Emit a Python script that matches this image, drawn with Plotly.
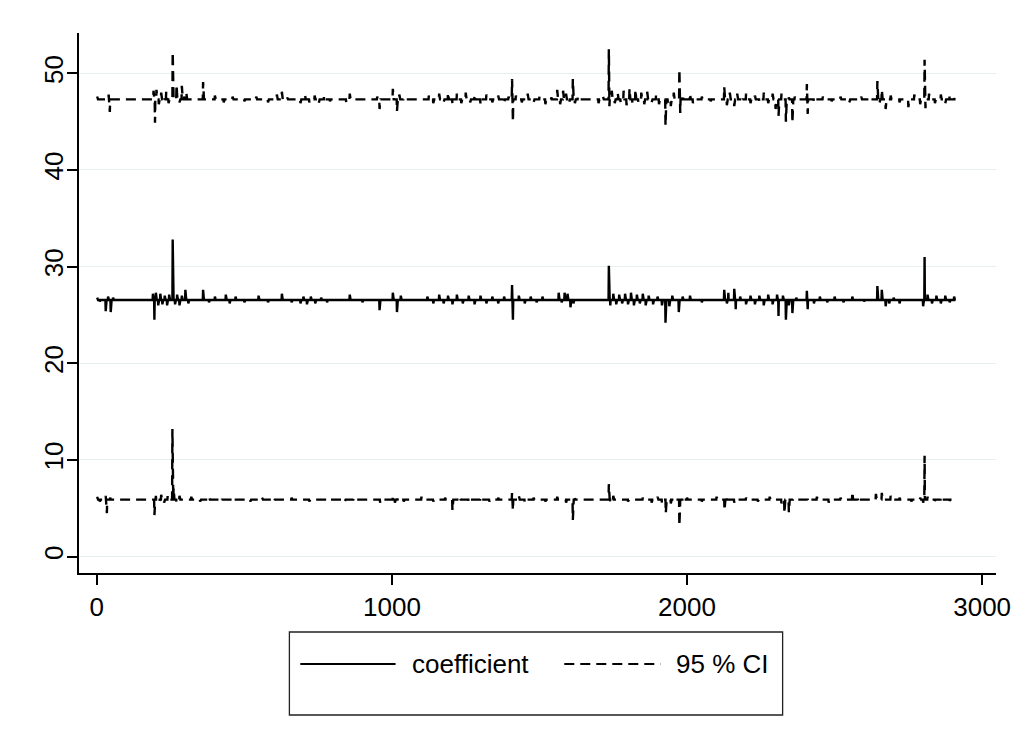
import numpy as np
import plotly.graph_objects as go

# Observation index and the typical level of each series
N_OBS = 2910
obs = np.arange(1, N_OBS + 1)

UPPER_LEVEL = 47.3
COEF_LEVEL = 26.55
LOWER_LEVEL = 5.9

# Observations where the upper 95% bound departs from its usual level
upper_obs = [1, 40, 44, 192, 197, 202, 210, 218, 226, 235, 243, 257, 270, 280, 288, 296, 303,
             360, 400, 430, 460, 500, 540, 580, 610, 627, 645, 690, 705, 720, 738, 752, 770, 790,
             845, 857, 950, 958, 1003, 1017, 1025, 1040, 1125, 1140, 1160, 1175, 1190, 1205,
             1220, 1235, 1250, 1265, 1280, 1300, 1320, 1340, 1360, 1380, 1395, 1407, 1410,
             1420, 1440, 1460, 1480, 1500, 1520, 1540, 1560, 1570, 1580, 1590, 1600, 1613,
             1620, 1630, 1700, 1715, 1735, 1737, 1745, 1755, 1765, 1775, 1785, 1795, 1805,
             1815, 1825, 1835, 1845, 1855, 1865, 1880, 1895, 1905, 1927, 1935, 1945, 1955,
             1974, 1977, 1985, 2010, 2020, 2050, 2080, 2126, 2135, 2145, 2160, 2170, 2185,
             2200, 2215, 2230, 2245, 2260, 2275, 2290, 2300, 2310, 2320, 2335, 2345, 2357,
             2365, 2406, 2409, 2430, 2460, 2490, 2520, 2550, 2590, 2620, 2645, 2652, 2660,
             2673, 2690, 2720, 2750, 2770, 2790, 2805, 2808, 2820, 2840, 2860, 2875, 2890, 2905]
upper_val = [47.6, 47.8, 46.0, 48.2, 44.9, 48.3, 46.8, 48.0, 47.0, 48.1, 46.9, 52.2, 48.8, 47.0,
             48.7, 47.6, 48.0, 49.1, 47.7, 47.0, 47.6, 47.1, 47.6, 47.0, 47.8, 48.1, 47.5, 46.9,
             47.8, 47.0, 47.7, 46.9, 47.7, 47.1, 47.0, 47.9, 47.6, 46.3, 48.4, 46.1, 47.8, 47.5,
             47.7, 46.9, 47.9, 47.0, 48.0, 46.8, 47.9, 46.9, 48.0, 47.0, 47.8, 46.8, 47.8, 47.0,
             47.7, 46.9, 47.6, 49.4, 45.0, 47.7, 47.0, 47.9, 47.0, 47.6, 46.8, 47.5, 48.3, 46.8,
             48.2, 47.9, 46.9, 49.4, 46.9, 47.6, 46.9, 47.6, 52.5, 46.6, 48.2, 46.9, 48.0, 47.0,
             48.2, 46.7, 48.4, 46.8, 48.3, 47.0, 48.0, 46.8, 48.1, 47.0, 47.8, 46.8, 44.6, 47.0,
             46.6, 48.0, 50.4, 45.9, 47.8, 47.9, 46.9, 47.6, 47.1, 48.6, 46.7, 48.0, 46.6, 47.9,
             47.0, 47.9, 46.9, 47.7, 47.0, 48.0, 46.9, 47.9, 46.3, 45.6, 47.9, 45.0, 47.5, 44.9,
             47.6, 48.9, 45.8, 47.0, 47.6, 47.1, 47.6, 47.0, 47.6, 47.1, 49.2, 46.9, 48.3, 46.3,
             47.7, 47.0, 46.5, 47.8, 46.8, 51.4, 46.4, 47.9, 46.9, 47.8, 46.9, 47.8, 47.4]

# Observations where the point estimate departs from its usual level
coef_obs = [1, 10, 30, 38, 47, 55, 190, 195, 200, 208, 215, 222, 230, 238, 245, 257, 265, 272,
            280, 288, 300, 310, 360, 380, 400, 437, 450, 470, 500, 548, 580, 627, 660, 690, 700,
            712, 725, 740, 760, 780, 857, 900, 958, 1003, 1017, 1030, 1120, 1140, 1160, 1175,
            1190, 1205, 1220, 1240, 1260, 1280, 1300, 1320, 1340, 1360, 1380, 1407, 1410, 1430,
            1450, 1470, 1490, 1510, 1565, 1575, 1585, 1595, 1605, 1615, 1735, 1740, 1750, 1760,
            1770, 1780, 1790, 1800, 1810, 1820, 1830, 1840, 1850, 1860, 1870, 1885, 1900, 1915,
            1927, 1940, 1950, 1972, 1985, 2010, 2050, 2126, 2135, 2140, 2160, 2165, 2180, 2200,
            2215, 2230, 2245, 2260, 2275, 2290, 2305, 2310, 2325, 2335, 2345, 2357, 2370, 2406,
            2409, 2430, 2450, 2475, 2500, 2530, 2560, 2600, 2645, 2660, 2673, 2685, 2700, 2720,
            2800, 2805, 2815, 2830, 2845, 2860, 2875, 2890, 2905]
coef_val = [26.8, 26.4, 25.4, 26.9, 25.3, 26.8, 27.2, 24.5, 27.3, 26.0, 27.2, 26.1, 27.0, 26.0,
            27.1, 32.8, 26.1, 27.1, 26.0, 27.0, 27.6, 26.2, 27.6, 26.3, 26.9, 27.1, 26.2, 26.9,
            26.3, 27.0, 26.3, 27.2, 26.3, 26.2, 26.9, 26.1, 26.9, 26.2, 26.8, 26.3, 27.1, 26.3,
            25.5, 27.3, 25.3, 27.0, 26.9, 26.2, 27.1, 26.2, 27.0, 26.1, 27.1, 26.2, 27.0, 26.1,
            27.0, 26.2, 26.9, 26.2, 26.9, 28.1, 24.5, 27.0, 26.2, 26.9, 26.3, 26.9, 27.3, 26.3,
            27.3, 27.2, 25.8, 26.2, 30.1, 26.0, 27.2, 26.1, 27.1, 26.2, 27.2, 26.1, 27.3, 26.0,
            27.1, 26.2, 27.2, 26.0, 27.0, 26.1, 26.9, 26.0, 24.2, 25.9, 27.0, 25.3, 26.9, 27.0,
            26.3, 27.6, 26.2, 27.3, 27.7, 25.6, 26.9, 26.1, 27.0, 26.1, 27.0, 26.0, 27.1, 26.1,
            27.1, 24.9, 27.0, 24.5, 26.0, 25.2, 26.8, 27.5, 25.6, 26.2, 26.9, 26.3, 26.9, 26.3,
            26.9, 26.4, 28.0, 27.6, 25.9, 26.2, 26.8, 26.2, 25.9, 31.0, 27.1, 26.2, 27.0, 26.2,
            27.0, 26.3, 26.9]

# Observations where the lower 95% bound departs from its usual level
lower_obs = [1, 10, 30, 34, 45, 195, 200, 210, 218, 228, 240, 256, 260, 270, 280, 320, 350, 380,
             420, 460, 520, 560, 600, 660, 720, 780, 840, 870, 960, 1003, 1010, 1020, 1040, 1100,
             1140, 1180, 1205, 1230, 1260, 1300, 1330, 1360, 1407, 1410, 1430, 1450, 1480, 1520,
             1560, 1590, 1613, 1620, 1735, 1740, 1750, 1800, 1850, 1880, 1900, 1915, 1928, 1945,
             1960, 1974, 1985, 2000, 2050, 2100, 2127, 2135, 2160, 2200, 2240, 2280, 2320, 2330,
             2345, 2360, 2410, 2440, 2480, 2520, 2560, 2580, 2640, 2660, 2690, 2720, 2760, 2790,
             2800, 2805, 2815, 2840, 2860, 2890, 2905]
lower_val = [6.2, 5.7, 6.3, 4.5, 6.1, 4.3, 6.3, 5.6, 6.4, 5.6, 6.3, 13.2, 7.1, 5.6, 6.3, 6.2, 5.7,
             6.2, 5.7, 6.1, 5.7, 6.1, 5.7, 6.1, 5.7, 6.0, 5.7, 6.1, 5.6, 6.3, 5.6, 6.1, 5.7, 6.2,
             5.7, 6.1, 4.8, 6.2, 5.6, 6.2, 5.7, 6.1, 6.6, 4.8, 6.3, 5.6, 6.1, 5.7, 6.2, 5.6, 3.8,
             6.0, 7.5, 5.6, 6.3, 5.7, 6.1, 5.6, 6.2, 5.5, 4.5, 5.5, 6.1, 3.2, 5.6, 6.1, 5.7, 6.2,
             4.8, 6.3, 5.6, 6.1, 5.7, 6.2, 5.5, 4.5, 4.6, 6.0, 5.7, 6.2, 5.6, 6.1, 6.7, 5.6, 6.5,
             6.6, 6.3, 6.1, 5.7, 6.1, 5.6, 10.45, 6.2, 5.8, 6.2, 5.8, 6.0]

x_ticks = [0, 1000, 2000, 3000]
y_ticks = [0, 10, 20, 30, 40, 50]
legend_labels = ["coefficient", "95 % CI"]


def build_series(level, at, values):
    y = np.full(N_OBS, level, dtype=float)
    y[np.asarray(at) - 1] = values
    return y


upper = build_series(UPPER_LEVEL, upper_obs, upper_val)
coef = build_series(COEF_LEVEL, coef_obs, coef_val)
lower = build_series(LOWER_LEVEL, lower_obs, lower_val)

FONT = "Liberation Sans, Arial, sans-serif"
FONT_SIZE = 26
DASH = "10px,6px"
LINE_W = 2.4

fig = go.Figure()
fig.add_trace(go.Scatter(x=obs, y=upper, mode="lines", name=legend_labels[1],
                         line=dict(color="black", width=LINE_W, dash=DASH)))
fig.add_trace(go.Scatter(x=obs, y=coef, mode="lines", name=legend_labels[0],
                         line=dict(color="black", width=LINE_W)))
fig.add_trace(go.Scatter(x=obs, y=lower, mode="lines", name=legend_labels[1],
                         line=dict(color="black", width=LINE_W, dash=DASH)))

axis_common = dict(showline=True, linecolor="black", linewidth=1.5, ticks="outside",
                   ticklen=10, tickwidth=1.5, tickcolor="black", zeroline=False,
                   tickfont=dict(family=FONT, size=FONT_SIZE, color="black"))

fig.update_xaxes(range=[-60.5, 3047], tickvals=x_ticks, showgrid=False, **axis_common)
fig.update_yaxes(range=[-1.69, 54.17], tickvals=y_ticks, tickangle=-90, showgrid=True,
                 gridcolor="#E8EFF1", gridwidth=1.2, ticklabelstandoff=-6, **axis_common)

# Plot-area geometry in page pixels, used to place the legend box below the axes
LEFT, RIGHT, TOP, BOTTOM = 79, 20, 33, 167
PLOT_W = 1023 - LEFT - RIGHT
PLOT_H = 740 - TOP - BOTTOM


def px_x(p):
    return (p - LEFT) / PLOT_W


def px_y(p):
    return (740 - BOTTOM - p) / PLOT_H


legend_y = px_y(664)
shapes = [
    dict(type="rect", xref="paper", yref="paper", x0=px_x(291), x1=px_x(788),
         y0=px_y(715), y1=px_y(632), line=dict(color="#222222", width=1.3)),
    dict(type="line", xref="paper", yref="paper", x0=px_x(302), x1=px_x(398),
         y0=legend_y, y1=legend_y, line=dict(color="black", width=2)),
    dict(type="line", xref="paper", yref="paper", x0=px_x(568), x1=px_x(665),
         y0=legend_y, y1=legend_y, line=dict(color="black", width=2, dash=DASH)),
]
annotations = [
    dict(xref="paper", yref="paper", x=px_x(413), y=legend_y, text=legend_labels[0],
         showarrow=False, xanchor="left", yanchor="middle",
         font=dict(family=FONT, size=FONT_SIZE, color="black")),
    dict(xref="paper", yref="paper", x=px_x(679), y=legend_y, text=legend_labels[1],
         showarrow=False, xanchor="left", yanchor="middle",
         font=dict(family=FONT, size=FONT_SIZE, color="black")),
]

fig.update_layout(
    width=1023, height=740,
    margin=dict(l=LEFT, r=RIGHT, t=TOP, b=BOTTOM),
    paper_bgcolor="white", plot_bgcolor="white",
    showlegend=False,
    shapes=shapes, annotations=annotations,
)

fig.write_html("out.html")
